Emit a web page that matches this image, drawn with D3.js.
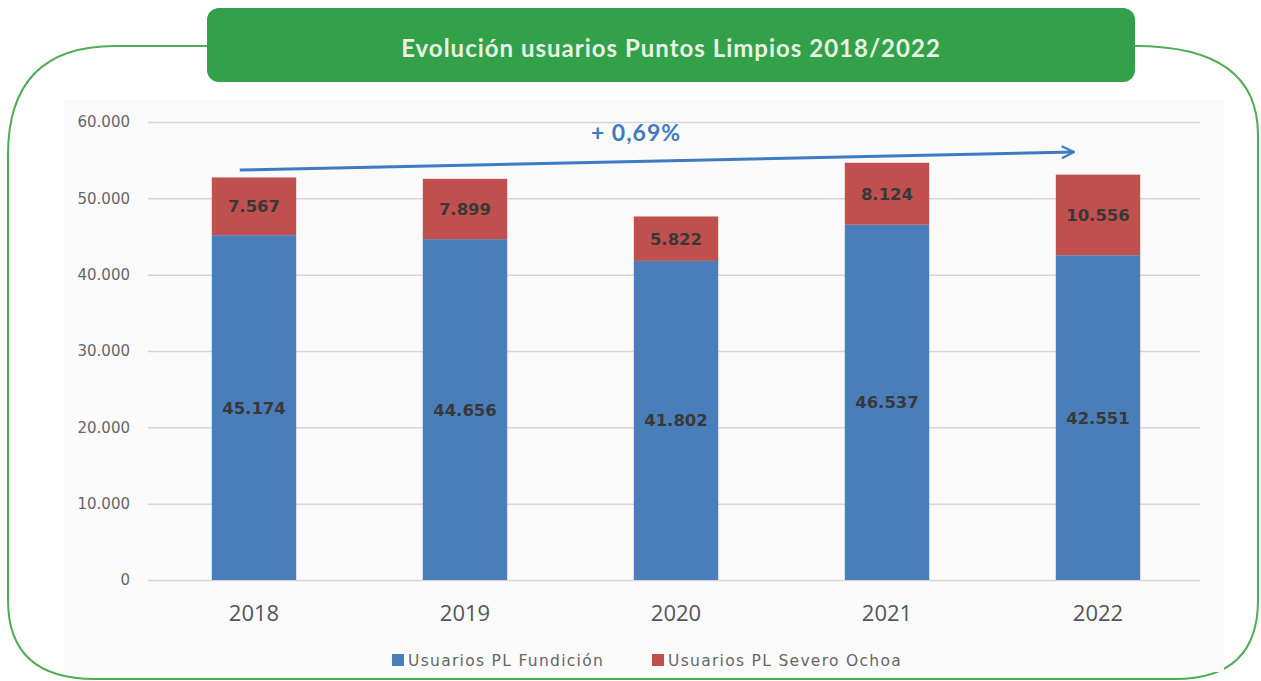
<!DOCTYPE html>
<html>
<head>
<meta charset="utf-8">
<script src="https://cdn.jsdelivr.net/npm/d3@7.9.0/dist/d3.min.js"></script>
<style>
  html, body { margin: 0; padding: 0; background: #fff; }
  svg { display: block; font-family: "Open Sans", sans-serif; }
</style>
</head>
<body>
<svg id="chart" width="1261" height="681"></svg>
<script>
// data
const years = ['2018', '2019', '2020', '2021', '2022'];
const fundicion = [45174, 44656, 41802, 46537, 42551];
const severoOchoa = [7567, 7899, 5822, 8124, 10556];
const yTicks = [0, 10000, 20000, 30000, 40000, 50000, 60000];
const seriesNames = ['Usuarios PL Fundición', 'Usuarios PL Severo Ochoa'];
const seriesColors = ['#4a7ebb', '#c0504d'];
const title = 'Evolución usuarios Puntos Limpios 2018/2022';
const trendLabel = '+ 0,69%';

const svg = d3.select('#chart');
const fmt = v => d3.format(',')(v).replace(/,/g, '.');

// frame
svg.append('path')
  .attr('d', 'M207,46 L115,46 Q8,46 8,155 L8,600 Q8,679 95,679 L1175,679 Q1258,679 1258,600 L1258,135 Q1258,46 1135,46')
  .attr('fill', 'none')
  .attr('stroke', '#4fae55')
  .attr('stroke-width', 2);

// plot background
svg.append('rect')
  .attr('x', 64).attr('y', 100).attr('width', 1160).attr('height', 572)
  .attr('fill', '#fafafa');

// title box
svg.append('rect')
  .attr('x', 207).attr('y', 8).attr('width', 928).attr('height', 74)
  .attr('rx', 12)
  .attr('fill', '#33a14a');
svg.append('text')
  .attr('x', 671).attr('y', 57)
  .attr('text-anchor', 'middle')
  .attr('fill', '#e8f2e4')
  .attr('font-size', 24)
  .attr('font-weight', 'bold')
  .attr('letter-spacing', 1)
  .attr('font-family', 'Lato, sans-serif')
  .text(title);

// scales
const x = d3.scaleBand().domain(years).range([148.5, 1203.5]).paddingInner(0.6).paddingOuter(0.3);
const y = d3.scaleLinear().domain([0, 60000]).range([580, 122]);

// gridlines + y labels
const yAxis = svg.append('g').attr('transform', 'translate(148,0)')
  .call(d3.axisLeft(y).tickValues(yTicks).tickSize(-1052).tickFormat(fmt).tickPadding(18));
yAxis.select('.domain').remove();
yAxis.selectAll('line').attr('stroke', '#d9d4d4').attr('stroke-width', 1.5);
yAxis.selectAll('text').attr('fill', '#666').attr('font-size', 15).attr('font-family', '"DejaVu Sans", sans-serif');

// stacked bars
const stackData = years.map((yr, i) => ({ year: yr, a: fundicion[i], b: severoOchoa[i] }));
const stacked = d3.stack().keys(['a', 'b'])(stackData);

svg.append('g').selectAll('g')
  .data(stacked)
  .join('g')
  .attr('fill', (d, i) => seriesColors[i])
  .selectAll('rect')
  .data(d => d)
  .join('rect')
  .attr('x', d => x(d.data.year))
  .attr('width', x.bandwidth())
  .attr('y', d => y(d[1]))
  .attr('height', d => y(d[0]) - y(d[1]));

// value labels
stacked.forEach(series => {
  svg.append('g').selectAll('text')
    .data(series)
    .join('text')
    .attr('x', d => x(d.data.year) + x.bandwidth() / 2)
    .attr('y', d => (y(d[0]) + y(d[1])) / 2 + 6)
    .attr('text-anchor', 'middle')
    .attr('fill', '#383838')
    .attr('font-size', 16.5)
    .attr('font-weight', 'bold')
    .attr('font-family', '"DejaVu Sans", sans-serif')
    .text(d => fmt(d[1] - d[0]));
});

// x labels
svg.append('g').selectAll('text')
  .data(years)
  .join('text')
  .attr('x', d => x(d) + x.bandwidth() / 2)
  .attr('y', 621)
  .attr('text-anchor', 'middle')
  .attr('fill', '#555')
  .attr('font-size', 22)
  .text(d => d);

// trend arrow
const defs = svg.append('defs');
defs.append('marker')
  .attr('id', 'arrow')
  .attr('viewBox', '0 0 10 10')
  .attr('refX', 9).attr('refY', 5)
  .attr('markerWidth', 5).attr('markerHeight', 5)
  .attr('orient', 'auto')
  .append('path')
  .attr('d', 'M1,1 L9,5 L1,9')
  .attr('fill', 'none')
  .attr('stroke', '#3f7bc0')
  .attr('stroke-width', 1.5);
svg.append('line')
  .attr('x1', x('2018') + 28).attr('y1', y(53700))
  .attr('x2', x('2022') + 18).attr('y2', y(56070))
  .attr('stroke', '#3f7bc0')
  .attr('stroke-width', 3)
  .attr('marker-end', 'url(#arrow)');
svg.append('text')
  .attr('x', 636).attr('y', 141)
  .attr('text-anchor', 'middle')
  .attr('fill', '#3f7bc0')
  .attr('font-size', 23)
  .attr('font-weight', 'bold')
  .attr('letter-spacing', 1)
  .attr('font-family', 'Lato, sans-serif')
  .text(trendLabel);

// legend
const legend = svg.append('g').attr('transform', 'translate(392,666)');
const legendX = [0, 260];
seriesNames.forEach((name, i) => {
  const g = legend.append('g').attr('transform', `translate(${legendX[i]},0)`);
  g.append('rect').attr('x', 0).attr('y', -12).attr('width', 12).attr('height', 12).attr('fill', seriesColors[i]);
  g.append('text').attr('x', 16).attr('y', 0).attr('fill', '#666')
    .attr('font-size', 15.5).attr('letter-spacing', 1.3)
    .attr('font-family', '"DejaVu Sans", sans-serif').text(name);
});
</script>
</body>
</html>
